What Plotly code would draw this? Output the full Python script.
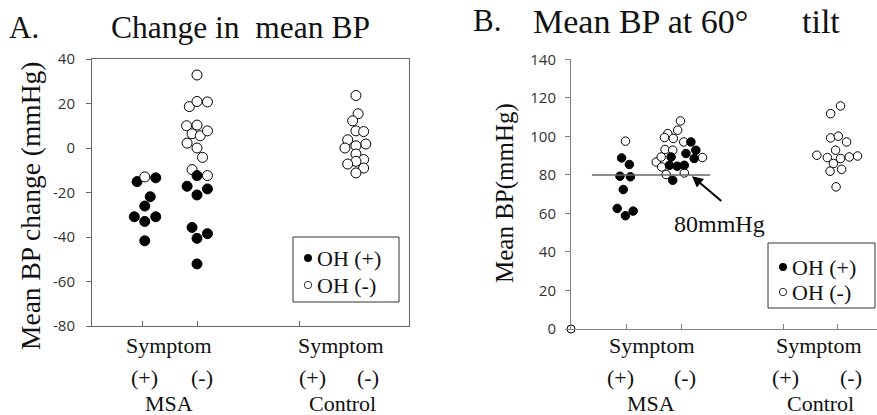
import plotly.graph_objects as go

W, H = 877, 415

# ---------------- data ----------------
group_labels_top = ["Symptom", "Symptom"]
group_labels_mid = ["(+)", "(-)", "(+)", "(-)"]
group_labels_bot = ["MSA", "Control"]
cat_pos = [1, 2, 3.87, 4.85]          # MSA sym(+), MSA sym(-), Control sym(+), Control sym(-)
a_tickvals = [1, 2, 3.87]
b_tickvals = [1, 2, 3.87, 4.85]
a_yticks = [-80, -60, -40, -20, 0, 20, 40]
a_yticklabels = ["-80", "-60", "-40", "-20", "0", "20", "40"]
b_yticks = [0, 20, 40, 60, 80, 100, 120, 140]
b_yticklabels = ["0", "20", "40", "60", "80", "100", "120", "140"]

# Panel A: change in mean BP (mmHg)
A_msa_p_filled = [-15.1, -13.4, -21.9, -26.1, -30.9, -33.0, -30.9, -41.7]
A_msa_p_filled_dx = [-0.09, 0.25, 0.15, 0.05, -0.14, 0.05, 0.25, 0.05]
A_msa_p_open = [-13.0]
A_msa_p_open_dx = [0.05]
A_msa_n_open = [32.8, 18.6, 20.9, 20.7, 10.0, 10.3, 6.4, 5.5, 7.7, 2.2, 0.0, -4.2, -9.7, -12.4]
A_msa_n_open_dx = [0, -0.14, 0, 0.19, -0.19, 0, -0.09, 0.06, 0.19, -0.18, 0, 0.1, -0.09, 0.19]
A_msa_n_filled = [-12.4, -17.2, -21.1, -18.4, -35.7, -40.6, -38.5, -52.1]
A_msa_n_filled_dx = [0, -0.18, 0, 0.19, -0.09, 0, 0.19, 0]
A_ctrl_open = [23.6, 15.4, 12.2, 7.7, 7.4, 3.7, 1.8, 1.0, 0.0, -2.7, -5.2, -6.0, -7.2, -9.0, -11.2]
A_ctrl_open_dx = [0.04, 0.08, -0.02, 0.04, 0.18, -0.11, 0.22, 0.04, -0.16, 0.04, 0.18, 0.04, -0.11, 0.18, 0.04]

# Panel B: mean BP at 60 degree tilt (mmHg)
B_msa_p_open = [97.5]
B_msa_p_open_dx = [-0.01]
B_msa_p_filled = [88.8, 85.4, 79.3, 79.0, 72.4, 62.6, 58.8, 61.2]
B_msa_p_filled_dx = [-0.08, 0.06, -0.11, 0.08, -0.05, -0.16, -0.01, 0.13]
B_msa_n_open = [108.0, 103.2, 101.4, 99.4, 98.9, 97.1, 93.2, 92.8, 89.0, 86.7, 89.3, 84.1, 80.2, 81.0]
B_msa_n_open_dx = [-0.01, -0.06, -0.24, -0.3, -0.14, 0.05, -0.29, -0.15, 0.39, -0.45, -0.36, -0.35, -0.27, 0.06]
B_msa_n_filled = [97.1, 92.8, 91.1, 88.5, 89.3, 85.0, 84.5, 85.0, 77.2]
B_msa_n_filled_dx = [0.18, 0.27, 0.09, 0.24, -0.18, -0.21, -0.07, 0.06, -0.15]
B_ctrl_open = [115.8, 111.8, 99.2, 100.1, 97.1, 92.8, 90.2, 89.0, 88.5, 89.3, 89.8, 85.9, 82.9, 81.9, 73.8]
B_ctrl_open_dx = [0.05, -0.13, -0.13, 0.01, 0.16, -0.04, -0.38, -0.19, 0.05, 0.21, 0.36, -0.08, 0.07, -0.14, -0.03]
B_origin = [0]
ref_level = 80
ref_label = "80mmHg"
legend_labels = ["OH (+)", "OH (-)"]

# ---------------- helpers ----------------
SERIF = "Liberation Serif, Times New Roman, serif"
SANS = "Open Sans, Liberation Sans, sans-serif"

def px(x):
    return x / W

def py(y):
    return 1 - y / H

def xs(cat, dxs):
    return [cat_pos[cat] + d for d in dxs]

fig = go.Figure()

def add(xv, yv, filled, size, xa, ya):
    fig.add_trace(go.Scatter(
        x=xv, y=yv, mode="markers", xaxis=xa, yaxis=ya, showlegend=False,
        cliponaxis=False, hoverinfo="skip",
        marker=dict(size=size, color="black" if filled else "white",
                    line=dict(color="black", width=1)),
    ))

SA, SB = 10, 8.5
add(xs(0, A_msa_p_filled_dx), A_msa_p_filled, True, SA, "x", "y")
add(xs(0, A_msa_p_open_dx), A_msa_p_open, False, SA, "x", "y")
add(xs(1, A_msa_n_open_dx), A_msa_n_open, False, SA, "x", "y")
add(xs(1, A_msa_n_filled_dx), A_msa_n_filled, True, SA, "x", "y")
add(xs(3, A_ctrl_open_dx), A_ctrl_open, False, SA, "x", "y")

add(xs(0, B_msa_p_open_dx), B_msa_p_open, False, SB, "x2", "y2")
add(xs(0, B_msa_p_filled_dx), B_msa_p_filled, True, SB, "x2", "y2")
add(xs(1, B_msa_n_open_dx), B_msa_n_open, False, SB, "x2", "y2")
add(xs(1, B_msa_n_filled_dx), B_msa_n_filled, True, SB, "x2", "y2")
add(xs(3, B_ctrl_open_dx), B_ctrl_open, False, SB, "x2", "y2")
add(B_origin, B_origin, False, 8, "x2", "y2")

# ---------------- axes ----------------
A_L, A_R, A_T, A_B = 92, 409, 59, 326
B_L, B_R, B_T, B_B = 571, 877, 59.3, 329
UNIT = 55.0
a_x0 = 1 - (142 - A_L) / UNIT

tickfont = dict(family=SANS, size=15, color="#333333")
fig.update_layout(
    template="none",
    width=W, height=H, margin=dict(l=0, r=0, t=0, b=0, pad=0, autoexpand=False),
    paper_bgcolor="white", plot_bgcolor="white",
    xaxis=dict(domain=[px(A_L), px(A_R)], range=[a_x0, a_x0 + (A_R - A_L) / UNIT],
               showline=True, mirror=True, linecolor="#666666", linewidth=1,
               ticks="inside", ticklen=5, tickcolor="#666666", tickvals=a_tickvals,
               showticklabels=False, showgrid=False, zeroline=False, anchor="y",
               automargin=False),
    yaxis=dict(domain=[py(A_B), py(A_T)], range=[-80, 40],
               tickvals=a_yticks, ticktext=a_yticklabels, ticklabelstandoff=8,
               showline=True, mirror=True, linecolor="#666666", linewidth=1,
               ticks="outside", ticklen=5, tickcolor="#666666", tickfont=tickfont,
               showgrid=False, zeroline=False, anchor="x", automargin=False),
    xaxis2=dict(domain=[px(B_L), px(B_R)], range=[0, (B_R - B_L) / UNIT],
                showline=True, linecolor="#808080", linewidth=1,
                ticks="inside", ticklen=5, tickcolor="#808080", tickvals=b_tickvals,
                showticklabels=False, showgrid=False, zeroline=False, anchor="y2",
                automargin=False),
    yaxis2=dict(domain=[py(B_B), py(B_T)], range=[0, 140],
                tickvals=b_yticks, ticktext=b_yticklabels, ticklabelstandoff=6,
                showline=True, linecolor="#808080", linewidth=1,
                ticks="outside", ticklen=5, tickcolor="#808080", tickfont=tickfont,
                showgrid=False, zeroline=False, anchor="x2", automargin=False),
)

shapes = []
ann = []

def text(t, x, y, size, xanchor="center", angle=0):
    ann.append(dict(xref="paper", yref="paper", x=px(x), y=py(y), xanchor=xanchor,
                    yanchor="middle", text=t, showarrow=False, textangle=angle,
                    font=dict(family=SERIF, size=size, color="#111111")))

# 80 mmHg reference line and arrow
shapes.append(dict(type="line", xref="x2", yref="y2", x0=0.38, x1=2.53,
                   y0=ref_level, y1=ref_level, line=dict(color="#666666", width=1.5)))
ann.append(dict(xref="x2", yref="y2", x=2.2, y=79.3, ax=2.76, ay=65.8,
                axref="x2", ayref="y2", text="", showarrow=True, arrowhead=2,
                arrowsize=1.1, arrowwidth=2, arrowcolor="black"))
text(ref_label, 719, 224, 24)

# titles
text("A.", 7, 28, 31, "left")
text("Change in  mean BP", 109, 28, 31.5, "left")
text("B.", 471, 20, 31, "left")
text("Mean BP at 60°", 531, 22, 34, "left")
text("tilt", 800, 22, 34, "left")

# y-axis titles
text("Mean BP change (mmHg)", 30, 206, 27.5, angle=-90)
text("Mean BP(mmHg)", 505, 193, 25, angle=-90)

# category labels under axes
top_x = [[169, 341], [652, 819]]
mid_x = [[144, 202, 312, 368], [620, 685, 785, 851]]
bot_x = [[169, 342], [651, 820]]
for p in range(2):
    for t, x in zip(group_labels_top, top_x[p]):
        text(t, x, 345, 22)
    for t, x in zip(group_labels_mid, mid_x[p]):
        text(t, x, 377, 22)
    for t, x in zip(group_labels_bot, bot_x[p]):
        text(t, x, 403, 22)

# legends (manual boxes)
legends = [dict(box=(293, 237, 399, 302), rows=(258, 285), mx=308, tx=315),
           dict(box=(768, 243, 875, 308), rows=(267, 292), mx=783, tx=790)]
for lg in legends:
    x0, y0, x1, y1 = lg["box"]
    shapes.append(dict(type="rect", xref="paper", yref="paper", x0=px(x0), x1=px(x1),
                       y0=py(y1), y1=py(y0), line=dict(color="#333333", width=1),
                       fillcolor="white", layer="above"))
    for i, (lab, ry) in enumerate(zip(legend_labels, lg["rows"])):
        shapes.append(dict(type="circle", xref="paper", yref="paper", xsizemode="pixel",
                           ysizemode="pixel", xanchor=px(lg["mx"]), yanchor=py(ry),
                           x0=-3.7, x1=3.7, y0=-3.7, y1=3.7,
                           fillcolor="black" if i == 0 else "white",
                           line=dict(color="black", width=0.8), layer="above"))
        text(lab, lg["tx"], ry, 22, "left")

fig.update_layout(shapes=shapes, annotations=ann)
fig.write_html("out.html", config={"displayModeBar": False},
               post_script="document.body.style.margin='0';")
